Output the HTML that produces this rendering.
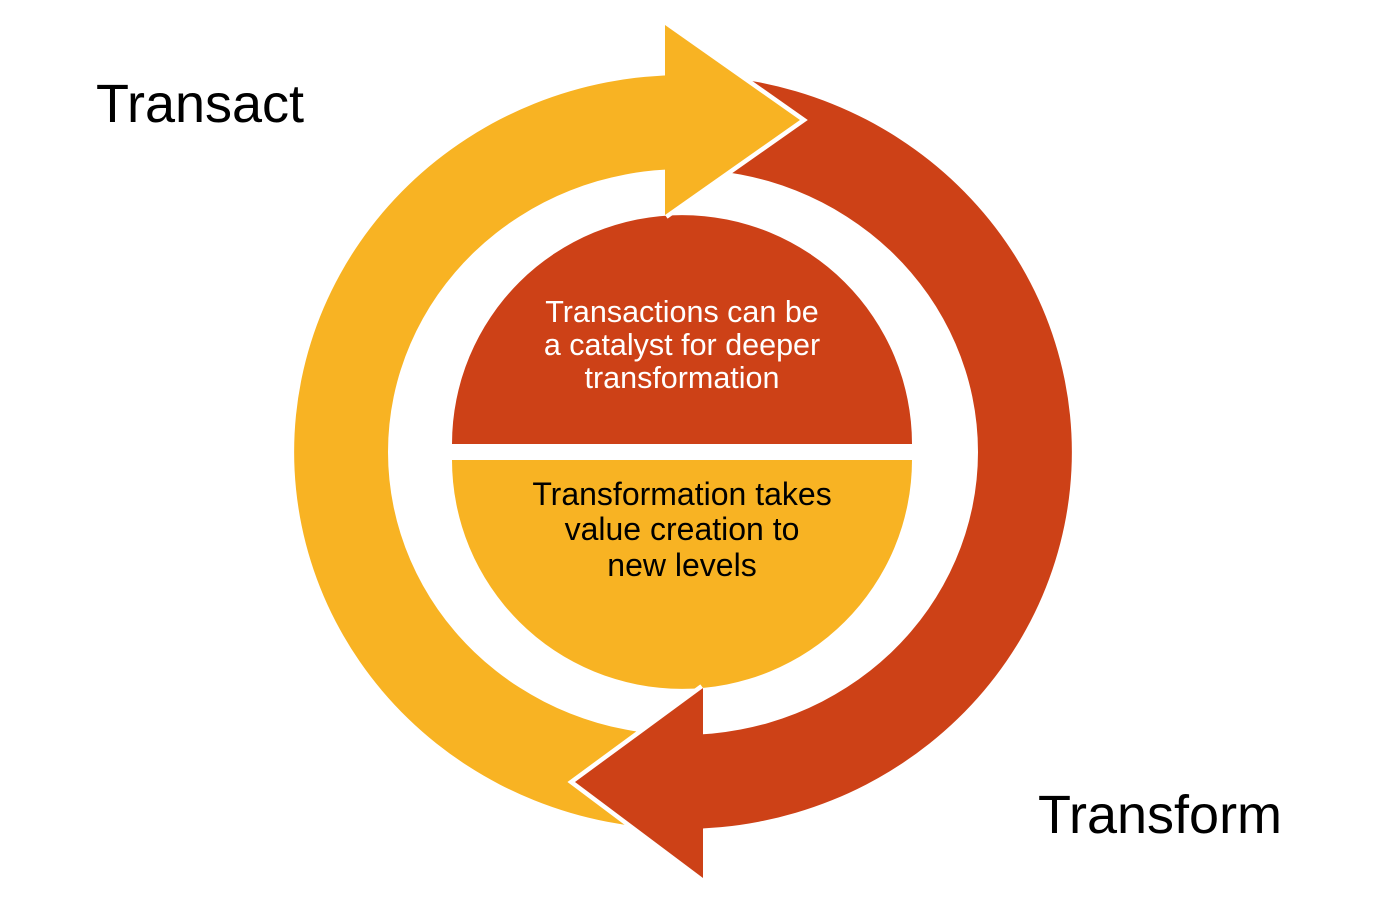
<!DOCTYPE html>
<html><head><style>
html,body{margin:0;padding:0;background:#fff;width:1387px;height:905px;overflow:hidden}
svg{display:block}
text{font-family:"Liberation Sans",Arial,sans-serif}
</style></head><body>
<svg width="1387" height="905" viewBox="0 0 1387 905" xmlns="http://www.w3.org/2000/svg">
<!-- yellow ring arc -->
<path d="M683,75 A389,377 0 0 0 683,829 L683,735 A295,283 0 0 1 683,169 Z" fill="#F8B323"/>
<!-- red ring arc -->
<path d="M683,75 A389,377 0 0 1 683,829 L703,829 L703,735 L683,735 A295,283 0 0 0 683,169 Z" fill="#CD4117"/>
<!-- inner circle halves -->
<path d="M452,444 A230,229 0 0 1 912,444 Z" fill="#CD4117"/>
<path d="M452,460 A230,229 0 0 0 912,460 Z" fill="#F8B323"/>
<!-- yellow arrowhead -->
<polyline points="665,25 800,120 665,215" fill="none" stroke="#fff" stroke-width="9" stroke-linejoin="miter"/>
<polygon points="665,25 800,120 665,215" fill="#F8B323"/>
<!-- red arrowhead -->
<polyline points="703,688 575,782 703,878" fill="none" stroke="#fff" stroke-width="9" stroke-linejoin="miter"/>
<polygon points="703,688 575,782 703,878" fill="#CD4117"/>
<!-- labels -->
<text x="96" y="122" font-size="54" fill="#000">Transact</text>
<text x="1038" y="833" font-size="54" fill="#000">Transform</text>
<g font-size="30.5" fill="#fff" text-anchor="middle">
<text x="682" y="322">Transactions can be</text>
<text x="682" y="355">a catalyst for deeper</text>
<text x="682" y="388">transformation</text>
</g>
<g font-size="32" fill="#000" text-anchor="middle">
<text x="682" y="505">Transformation takes</text>
<text x="682" y="540">value creation to</text>
<text x="682" y="576">new levels</text>
</g>
</svg>
</body></html>
